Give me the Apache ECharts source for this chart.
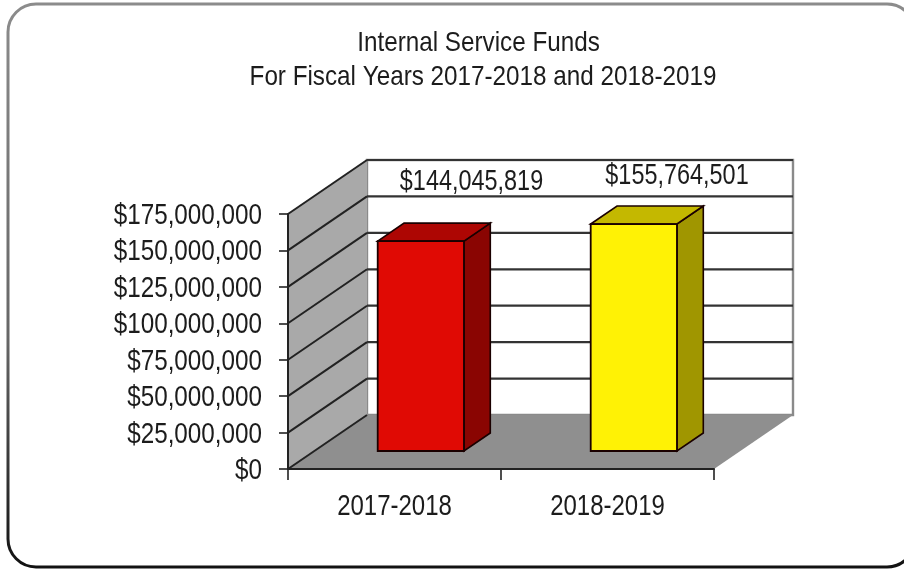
<!DOCTYPE html>
<html><head><meta charset="utf-8">
<style>html,body{margin:0;padding:0;background:#fff}#c{width:904px;height:569px;filter:blur(0.45px)}</style>
<script src="https://cdn.jsdelivr.net/npm/echarts@6/dist/echarts.min.js"></script>
</head><body><div id="c"></div>
<script>
const categories = ['2017-2018', '2018-2019'];
const fundValues = [144045819, 155764501];
const valueLabels = ['$144,045,819', '$155,764,501'];
const tickValues = [0, 25000000, 50000000, 75000000, 100000000, 125000000, 150000000, 175000000];
const titleLines = ['Internal Service Funds', 'For Fiscal Years 2017-2018 and 2018-2019'];
const faceColors = ['#e00a04', '#fff205'];
const topColors = ['#ad0603', '#c4b800'];
const sideColors = ['#8a0502', '#a09600'];

const DX = 79, DY = 54;
const FONT = '"Liberation Sans", Arial, sans-serif';
const INK = '#1c1c1c';
const chart = echarts.init(document.getElementById('c'), null, {renderer: 'canvas'});

function poly(points, fill, stroke, lw) {
  return {type: 'polygon', shape: {points}, style: {fill, stroke: stroke || null, lineWidth: lw || 0}};
}
function line(x1, y1, x2, y2, stroke, lw) {
  return {type: 'line', shape: {x1, y1, x2, y2}, style: {stroke, lineWidth: lw}};
}
function label(text, x, y, scaleX, align) {
  return {type: 'text', x, y, scaleX,
    style: {text, fill: INK, fontFamily: FONT, fontSize: 29, textAlign: align, textVerticalAlign: 'middle'}};
}

function renderWalls(params, api) {
  const cs = params.coordSys;
  const L = cs.x, R = cs.x + cs.width, T = cs.y, B = cs.y + cs.height;
  const children = [
    poly([[L + DX, T - DY], [R + DX, T - DY], [R + DX, B - DY], [L + DX, B - DY]], '#ffffff', '#8a8a8a', 2.4),
    poly([[L, T], [L + DX, T - DY], [L + DX, B - DY], [L, B]], '#a9a9a9'),
    poly([[L, B], [R, B], [R + DX, B - DY], [L + DX, B - DY]], '#8f8f8f')
  ];
  tickValues.forEach(v => {
    const y = api.coord([0, v])[1];
    children.push(line(L, y, L + DX, y - DY, '#222', 2));
    if (v > 0) children.push(line(L + DX, y - DY, R + DX, y - DY, '#333', 2.2));
  });
  return {type: 'group', children};
}

function renderBar(params, api) {
  const i = params.dataIndex;
  const band = api.size([1, 0])[0];
  const top = api.coord([i, api.value(1)]);
  const base = api.coord([i, 0]);
  const w = band * 0.405;
  const ox = DX / 3, oy = DY / 3;
  const x0 = top[0] - w / 2 + ox, x1 = x0 + w;
  const yT = top[1] - oy, yB = base[1] - oy;
  const s = '#1a0000';
  return {type: 'group', children: [
    poly([[x1, yT], [x1 + ox, yT - oy], [x1 + ox, yB - oy], [x1, yB]], sideColors[i], s, 1.6),
    poly([[x0, yT], [x0 + ox, yT - oy], [x1 + ox, yT - oy], [x1, yT]], topColors[i], s, 1.6),
    poly([[x0, yT], [x1, yT], [x1, yB], [x0, yB]], faceColors[i], s, 1.8)
  ]};
}

function renderYLabel(params, api) {
  const p = api.coord([0, api.value(1)]);
  return label('$' + api.value(1).toLocaleString('en-US'), params.coordSys.x - 26, p[1] + 2, 0.836, 'right');
}
function renderXLabel(params, api) {
  const p = api.coord([params.dataIndex, 0]);
  return label(categories[params.dataIndex], p[0], p[1] + 38, 0.827, 'center');
}
function renderValueLabel(params, api) {
  const i = params.dataIndex;
  const p = api.coord([i, 0]);
  const heights = [182, 176];
  return label(valueLabels[i], p[0] + (i ? 69.5 : 77), heights[i], 0.808, 'center');
}

const titleBase = {fill: INK, fontFamily: FONT, fontSize: 28, textAlign: 'center', textVerticalAlign: 'middle'};
chart.setOption({
  animation: false,
  backgroundColor: '#ffffff',
  grid: {left: 288, top: 214, width: 426, height: 255},
  xAxis: {
    type: 'category', data: categories,
    axisLine: {lineStyle: {color: '#222', width: 2}},
    axisTick: {show: true, length: 11, lineStyle: {color: '#222', width: 1.6}},
    axisLabel: {show: false},
    z: 5
  },
  yAxis: {
    type: 'value', min: 0, max: 175000000, interval: 25000000,
    splitLine: {show: false},
    axisLine: {show: true, lineStyle: {color: '#222', width: 2}},
    axisTick: {show: true, length: 9, lineStyle: {color: '#222', width: 1.6}},
    axisLabel: {show: false},
    z: 5
  },
  graphic: [
    {type: 'rect', z: 0, silent: true, shape: {x: 8, y: 4, width: 907, height: 563, r: 28},
      style: {fill: 'none', lineWidth: 3,
        stroke: new echarts.graphic.LinearGradient(0, 0, 0, 1, [
          {offset: 0, color: '#8c8c8c'}, {offset: 0.6, color: '#666'}, {offset: 1, color: '#111'}])}},
    {type: 'text', z: 10, x: 478.5, y: 43, scaleX: 0.866, style: Object.assign({text: titleLines[0]}, titleBase)},
    {type: 'text', z: 10, x: 483, y: 77, scaleX: 0.866, style: Object.assign({text: titleLines[1]}, titleBase)}
  ],
  series: [
    {type: 'custom', coordinateSystem: 'cartesian2d', z: 1, silent: true, data: [[0, 0]], renderItem: renderWalls},
    {type: 'custom', coordinateSystem: 'cartesian2d', z: 3, silent: true,
      data: fundValues.map((v, i) => [i, v]), encode: {x: 0, y: 1}, renderItem: renderBar},
    {type: 'custom', coordinateSystem: 'cartesian2d', z: 6, silent: true,
      data: tickValues.map(v => [0, v]), encode: {x: 0, y: 1}, renderItem: renderYLabel},
    {type: 'custom', coordinateSystem: 'cartesian2d', z: 6, silent: true,
      data: categories.map((c, i) => [i, 0]), encode: {x: 0, y: 1}, renderItem: renderXLabel},
    {type: 'custom', coordinateSystem: 'cartesian2d', z: 6, silent: true,
      data: fundValues.map((v, i) => [i, v]), encode: {x: 0, y: 1}, renderItem: renderValueLabel}
  ]
});
</script></body></html>
